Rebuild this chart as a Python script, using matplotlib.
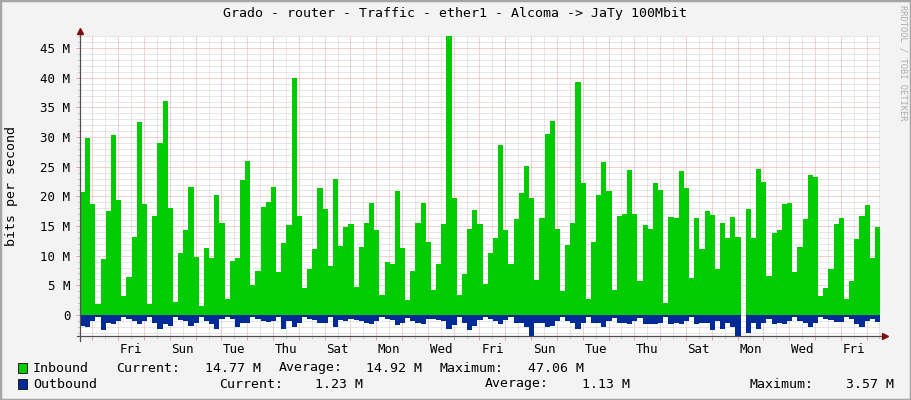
import matplotlib
matplotlib.use("Agg")
import matplotlib.pyplot as plt
import numpy as np
from matplotlib.ticker import MultipleLocator, FuncFormatter, NullFormatter
from matplotlib.lines import Line2D
from matplotlib.patches import Rectangle

# ---------------- data (Mbit/s, one sample per 4.8 h) ----------------
inbound = [
    20.8, 29.9, 18.7, 1.85, 9.4, 17.5, 30.3, 19.4, 3.2, 6.4, 13.1, 32.5, 18.7, 1.85, 16.7, 29.0, 36.1, 18.0, 2.2, 10.4, 14.3, 21.6, 9.8,
    1.5, 11.3, 9.6, 20.2, 15.5, 2.7, 9.1, 9.6, 22.8, 26.0, 5.1, 7.4, 18.2, 19.0, 21.6, 7.2, 12.1, 15.2, 39.9, 16.7, 4.6, 7.8,
    11.1, 21.4, 17.9, 8.3, 22.9, 11.6, 14.8, 15.3, 4.7, 11.5, 15.5, 18.9, 14.3, 3.4, 8.9, 8.6, 20.9, 11.3, 2.5, 7.4, 15.5, 18.9,
    12.3, 4.2, 8.6, 15.3, 47.06, 19.7, 3.4, 6.9, 14.5, 17.7, 15.3, 5.2, 10.4, 13.0, 28.7, 14.3, 8.6, 16.2, 20.6, 25.1, 19.7, 5.9,
    16.3, 30.5, 32.7, 14.5, 4.0, 11.8, 15.5, 39.3, 22.2, 2.7, 12.3, 20.2, 25.8, 20.9, 4.2, 16.7, 17.0, 24.4, 17.0, 5.7, 15.2, 14.5, 22.2,
    21.1, 2.0, 16.5, 16.3, 24.3, 21.4, 6.2, 16.3, 11.1, 17.5, 16.9, 7.8, 15.5, 13.0, 16.5, 13.1, 0.0, 17.9, 13.0, 24.6, 22.4, 6.6,
    13.8, 14.3, 18.7, 18.9, 7.2, 11.5, 16.2, 23.6, 23.3, 3.2, 4.6, 7.8, 15.3, 16.3, 2.7, 5.7, 12.8, 16.7, 18.5, 9.6, 14.77,
]
outbound = [
    1.85, 2.1, 1.0, 0.3, 2.6, 1.3, 1.5, 1.0, 0.3, 0.6, 1.0, 1.6, 1.0, 0.3, 1.3, 2.3, 1.6, 1.85, 0.3, 0.85, 1.0, 1.85, 1.3,
    0.3, 1.0, 1.6, 2.3, 0.6, 0.3, 0.6, 2.0, 1.4, 1.3, 0.3, 0.6, 1.0, 1.1, 1.0, 0.4, 2.4, 1.0, 2.1, 1.3, 0.3, 0.6,
    0.8, 1.3, 1.3, 0.4, 2.1, 0.8, 1.0, 0.6, 0.8, 1.0, 1.3, 1.6, 1.0, 0.4, 0.7, 0.8, 1.7, 1.3, 0.5, 1.0, 1.3, 1.5,
    0.6, 0.6, 0.8, 1.0, 2.4, 1.7, 0.4, 1.3, 2.6, 1.85, 0.8, 0.4, 0.7, 1.0, 1.6, 0.8, 0.4, 1.3, 1.3, 2.0, 3.57, 1.3,
    1.3, 2.0, 1.85, 1.0, 0.3, 1.0, 1.3, 2.3, 1.3, 0.4, 1.3, 1.3, 2.0, 1.0, 0.5, 1.3, 1.3, 1.6, 1.0, 0.5, 1.5, 1.6, 1.6,
    1.3, 0.4, 1.5, 1.3, 1.6, 1.0, 0.4, 1.6, 1.3, 1.3, 2.6, 1.0, 2.3, 1.3, 2.1, 3.5, 0.0, 3.0, 1.3, 2.3, 1.3, 0.6,
    1.6, 1.4, 1.5, 1.0, 0.3, 1.0, 1.3, 2.0, 1.3, 0.3, 0.6, 0.8, 1.2, 1.2, 0.3, 0.6, 1.5, 2.0, 1.0, 0.7, 1.23,
]
week_days = ["Thu", "Fri", "Sat", "Sun", "Mon", "Tue", "Wed"]   # day 0 of the axis is a Thursday
title = "Grado - router - Traffic - ether1 - Alcoma -> JaTy 100Mbit"
series_names = ["Inbound", "Outbound"]
in_stats = ["14.77 M", "14.92 M", "47.06 M"]
out_stats = ["1.23 M", "1.13 M", "3.57 M"]
stat_names = ["Current:", "Average:", "Maximum:"]

# ---------------- style ----------------
W, H = 911, 400
BG = "#F3F3F3"
GREEN = "#00CC00"
BLUE = "#002A97"
MGRID = "#EFA3A3"
GRID = "#CFCFCF"
AXIS = "#505050"
ARROW = "#7F1010"
FONT = "DejaVu Sans Mono"
plt.rcParams["font.family"] = [FONT]

STEP = 0.2      # days per sample
START = -0.48   # days relative to first Thursday midnight

fig = plt.figure(figsize=(W / 100, H / 100), dpi=100, facecolor=BG)
L, T, PW, PH = 80, 36, 800, 300
ax = fig.add_axes([L / W, 1 - (T + PH) / H, PW / W, PH / H])
ax.set_facecolor("white")

n = len(inbound)
edges = START + STEP * np.arange(n + 1)
vin = np.append(inbound, inbound[-1])
vout = -np.append(outbound, outbound[-1])
ax.fill_between(edges, 0, vin, step="post", color=GREEN, lw=0, antialiased=False, zorder=2)
ax.fill_between(edges, 0, vout, step="post", color=BLUE, lw=0, antialiased=False, zorder=2)

ax.set_xlim(START, START + STEP * n)
ax.set_ylim(-3.54, 47.05)

ax.xaxis.set_major_locator(MultipleLocator(1))
ax.xaxis.set_minor_locator(MultipleLocator(0.5))
ax.yaxis.set_major_locator(MultipleLocator(5))
ax.yaxis.set_minor_locator(MultipleLocator(1))

ax.set_axisbelow(True)
ax.grid(which="major", color=MGRID, lw=0.72, linestyle=(0, (1, 1)))
ax.grid(which="minor", color=GRID, lw=0.72, linestyle=(0, (1, 1)))


def xlab(x, pos):
    d = int(np.floor(x))
    if abs(x - d - 0.5) < 1e-6 and d % 2 == 1:
        return week_days[d % 7]
    return ""


def ylab(y, pos):
    if y < -1e-6:
        return ""
    if abs(y) < 1e-6:
        return "0"
    return f"{int(round(y))} M"


ax.xaxis.set_major_formatter(NullFormatter())
ax.xaxis.set_minor_formatter(FuncFormatter(xlab))
ax.yaxis.set_major_formatter(FuncFormatter(ylab))
ax.yaxis.set_minor_formatter(NullFormatter())

ax.tick_params(axis="x", which="major", length=3, width=0.72, color=MGRID, direction="out")
ax.tick_params(axis="x", which="minor", length=2, width=0.72, color=GRID, direction="out",
               labelsize=9, pad=3, labelcolor="black")
ax.tick_params(axis="y", which="major", length=3, width=0.72, color=MGRID, direction="out",
               labelsize=9, pad=4, labelcolor="black")
ax.tick_params(axis="y", which="minor", length=2, width=0.72, color=GRID, direction="out")

for s in ("top", "right"):
    ax.spines[s].set_visible(False)
for s in ("left", "bottom"):
    ax.spines[s].set_visible(False)

# axis lines with arrows
ax.add_line(Line2D([0, 0], [-0.015, 1.012], transform=ax.transAxes, color=AXIS, lw=0.9,
                   clip_on=False, zorder=5))
ax.add_line(Line2D([-0.004, 1.005], [0, 0], transform=ax.transAxes, color=AXIS, lw=0.9,
                   clip_on=False, zorder=5))
ax.plot([0], [1.018], marker="^", ms=5, color=ARROW, transform=ax.transAxes, clip_on=False, zorder=6)
ax.plot([1.006], [0], marker=">", ms=5, color=ARROW, transform=ax.transAxes, clip_on=False, zorder=6)

# title, axis label, watermark
fig.text(455 / W, 1 - 14 / H, title, ha="center", va="center", fontsize=9.5, color="black")
fig.text(12 / W, 1 - 186 / H, "bits per second", rotation=90, ha="center", va="center",
         fontsize=9.5, color="black")
fig.text(903 / W, 1 - 5 / H, "RRDTOOL / TOBI OETIKER", rotation=270, ha="center", va="top",
         fontsize=6.3, color="#ABABAB")

# legend
rows = [
    (series_names[0], GREEN, in_stats, 368, [116, 279, 440], [205, 366, 528]),
    (series_names[1], BLUE, out_stats, 384, [219, 485, 750], [315, 582, 846]),
]
for name, col, stats, y, lx, vx in rows:
    fig.patches.append(Rectangle((18 / W, 1 - (y + 5) / H), 9 / W, 10 / H, transform=fig.transFigure,
                                 facecolor=col, edgecolor="#202020", lw=0.7))
    fig.text(33 / W, 1 - y / H, name, ha="left", va="center", fontsize=9.5)
    for lab, x1, val, x2 in zip(stat_names, lx, stats, vx):
        fig.text(x1 / W, 1 - y / H, lab, ha="left", va="center", fontsize=9.5)
        fig.text(x2 / W, 1 - y / H, val, ha="left", va="center", fontsize=9.5)

# canvas border
fig.patches.append(Rectangle((0, 0), 1, 1, transform=fig.transFigure, fill=False,
                             edgecolor="#A5A5A5", lw=2.5))

fig.savefig("out.png", dpi=100, facecolor=BG)
